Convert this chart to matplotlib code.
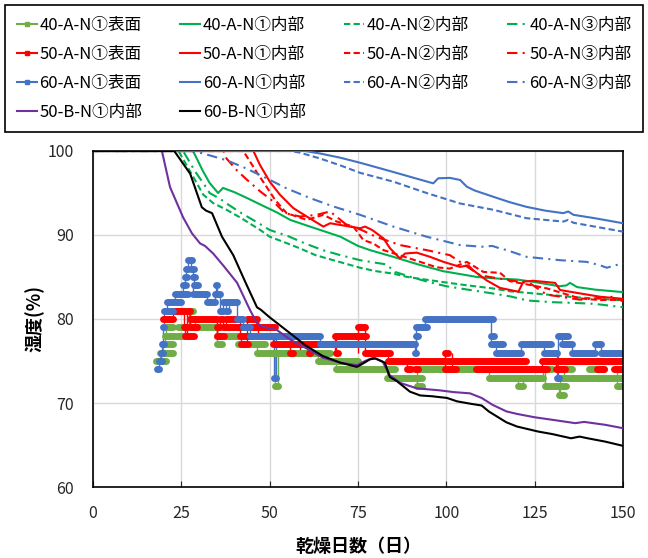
import numpy as np
import matplotlib
matplotlib.use("Agg")
import matplotlib.pyplot as plt
from matplotlib.lines import Line2D

plt.rcParams['font.family'] = ['Noto Sans CJK JP', 'DejaVu Sans']

# ---- interior humidity curves (day, %)
g1_d = [0, 28.3, 29.5, 31, 33, 35.4, 36.8, 40, 43.6, 48, 52, 55.8, 60, 65, 70, 75, 78.4, 85, 92, 99,
        108.7, 115, 120, 125, 132, 134, 135, 137, 142, 150]
g1_h = [100, 100, 99, 97.7, 96.2, 95.0, 95.6, 95.1, 94.4, 93.5, 92.7, 91.8, 91.2, 90.5, 89.8, 88.7, 88.2,
        87.4, 86.5, 85.7, 85.0, 84.8, 84.7, 84.4, 83.9, 84.0, 84.3, 83.8, 83.5, 83.2]
g2_d = [0, 24.2, 28.4, 31.2, 34, 37.8, 42, 47.3, 50, 55, 58.6, 63, 68, 75.6, 80, 85, 89, 94, 99, 106,
        113, 118, 124.6, 130, 136, 142, 150]
g2_h = [100, 100, 96.9, 94.8, 93.8, 93.0, 92.0, 90.6, 89.8, 89.0, 88.4, 87.6, 87.0, 86.1, 85.7, 85.4,
        85.0, 84.7, 84.4, 84.0, 83.65, 83.3, 83.05, 82.85, 82.6, 82.45, 82.2]
g3_d = [0, 25.5, 29, 31.5, 33, 36, 38, 42, 47.3, 50, 55, 60, 65, 70, 75.6, 80, 83, 85.5, 90, 95, 100,
        106, 113, 118, 123, 130, 137, 142, 150]
g3_h = [100, 100, 97.5, 96.0, 95.0, 94.3, 93.7, 92.6, 91.3, 90.6, 89.9, 89.0, 88.2, 87.6, 87.0, 86.7,
        86.5, 85.6, 85.0, 84.4, 83.9, 83.5, 83.05, 82.7, 82.2, 82.0, 81.9, 81.8, 81.4]

r1_d = [0, 45.4, 47.3, 50.1, 52.9, 56.7, 60.5, 65.2, 67.1, 69.9, 72.7, 75.6, 77, 79, 82.2, 84.1, 86.9,
        88.3, 91.6, 95.4, 99.2, 103.9, 106.2, 107.6, 111.4, 115.2, 120.4, 121.8, 124.6, 130.8, 132.2,
        137.8, 143.5, 150]
r1_h = [100, 100, 98.3, 96.3, 94.8, 93.2, 92.2, 91.0, 91.4, 91.2, 91.0, 90.8, 91.0, 90.6, 89.6, 88.4,
        87.2, 87.8, 87.9, 87.4, 86.8, 86.2, 86.4, 85.8, 84.6, 83.7, 83.25, 84.45, 84.55, 84.3, 83.45,
        83.05, 82.65, 82.4]
r2_d = [0, 42.5, 43, 46.3, 48.7, 51.5, 54.8, 60.5, 65.2, 69, 73.7, 76.5, 79.3, 82.2, 92.6, 97.3, 101,
        105.8, 110.5, 115.2, 118, 123.7, 128.4, 137.8, 143.5, 150]
r2_h = [100, 100, 99.7, 97.5, 96.0, 94.2, 92.6, 91.8, 92.4, 91.6, 91.0, 89.4, 89.0, 88.2, 86.8, 86.15,
        86.0, 86.8, 85.6, 85.5, 84.5, 84.05, 83.65, 82.45, 82.25, 82.3]
r3_d = [0, 37, 37.8, 40.7, 43.5, 47.3, 51, 54.3, 58.6, 63.3, 67.1, 71.8, 76, 80, 86.9, 94.4, 101,
        103.9, 109.5, 118, 123.7, 128.4, 137.8, 147.3, 150]
r3_h = [100, 100, 99.1, 97.7, 96.6, 95.2, 94.0, 92.6, 92.2, 92.4, 92.8, 91.2, 90.6, 89.8, 88.8, 88.2,
        87.6, 86.8, 85.2, 84.6, 84.25, 82.9, 82.3, 82.65, 82.1]

b1_d = [0, 60, 64.3, 70, 75.6, 85, 90, 96.3, 97.7, 101, 103.9, 105.8, 108, 113.3, 118, 122.7, 128,
        133.1, 134.5, 136, 142, 150]
b1_h = [100, 100, 99.7, 99.2, 98.6, 97.5, 96.9, 96.15, 96.75, 96.8, 96.55, 95.75, 95.3, 94.55, 93.9,
        93.35, 92.9, 92.6, 92.8, 92.4, 92.0, 91.4]
b2_d = [0, 56, 58.6, 64.3, 69.9, 75.6, 85, 94.4, 103.9, 113.3, 122.7, 133.1, 134.5, 136, 142, 150]
b2_h = [100, 100, 99.8, 99.1, 98.3, 97.4, 96.35, 95.0, 93.75, 93.0, 92.0, 91.6, 91.8, 91.45, 91.0, 90.4]
b3_d = [0, 28, 31.2, 37.8, 43.5, 50.1, 54.8, 61.4, 68, 75.6, 85, 94.4, 103.9, 110, 113, 115.2, 117.1,
        122.7, 132.2, 139.7, 143.5, 145.4, 149.6, 150]
b3_h = [100, 100, 99.7, 98.9, 97.9, 96.55, 95.55, 94.4, 93.4, 92.4, 91.0, 89.8, 88.8, 88.6, 88.7, 88.4,
        88.2, 87.4, 87.0, 86.8, 86.4, 86.1, 86.6, 86.6]

p_d = [0, 19.5, 21.8, 25.5, 28, 30.3, 31.7, 34, 37, 40.8, 44.4, 46.4, 48, 52, 56, 60, 65, 70, 74.7, 77,
       79.3, 82, 84, 86.9, 91.6, 98.2, 102, 106.7, 110, 113, 117, 120, 125, 130, 136.5, 139, 145, 150]
p_h = [100, 100, 95.7, 92.1, 90.2, 89.0, 88.7, 87.8, 86.3, 84.3, 81.1, 79.5, 79.1, 78.7, 77.5, 76.6,
       75.4, 74.8, 74.5, 75.0, 75.4, 74.9, 73.3, 72.4, 71.75, 71.5, 71.3, 71.15, 70.6, 69.8, 69.0, 68.7,
       68.3, 68.0, 67.6, 67.75, 67.4, 67.0]
k_d = [0, 23, 27.5, 30.8, 32, 33.7, 36.5, 39.7, 43, 46.4, 47.5, 50, 55.8, 60, 65, 70, 74.7, 76, 78.4,
       80, 82.6, 84, 86, 89.7, 92.6, 96, 100.2, 103, 107, 110, 112, 114.3, 117, 120, 123, 126, 130,
       135.3, 137.7, 140, 145, 150]
k_h = [100, 100, 97.3, 93.3, 92.9, 92.6, 89.8, 87.6, 84.5, 81.4, 81.1, 80.2, 78.3, 76.9, 75.6, 74.8,
       74.3, 74.6, 75.2, 75.3, 74.8, 73.1, 72.6, 71.35, 70.9, 70.8, 70.6, 70.2, 69.9, 69.7, 69.0, 68.4,
       67.7, 67.2, 66.9, 66.6, 66.3, 65.8, 66.0, 65.8, 65.4, 64.9]

# ---- surface readings: (start day, end day, level %)
gs_start = [17.7, 18.9, 19.9, 20.4, 20.7, 24.0, 27.1, 27.5, 28.9, 35.0, 35.0, 41.0, 46.3, 51.4, 52.4,
            63.7, 68.9, 83.1, 91.6, 91.6, 112.2, 120.4, 121.8, 127.4, 128.0, 132.0, 132.2, 133.2, 140.3,
            148.2]
gs_end = [20.7, 22.5, 22.7, 25.7, 22.7, 26.7, 28.4, 28.4, 35.0, 42.1, 36.4, 48.6, 52.9, 52.4, 67.1,
          75.0, 85.5, 93.0, 93.0, 112.2, 125.6, 121.8, 127.4, 129.8, 134.0, 133.3, 150.0, 135.5, 144.6,
          150.0]
gs_lvl = [75, 76, 77, 78, 79, 79, 81, 80, 79, 78, 77, 77, 76, 72, 76, 75, 74, 73, 72, 74, 73, 72, 73,
          74, 72, 71, 73, 74, 74, 72]

rs_start = [19.8, 22.5, 25.8, 26.0, 26.5, 27.5, 27.5, 35.0, 35.0, 36.0, 36.9, 37.5, 39.5, 41.6, 42.0,
            43.7, 46.6, 50.0, 51.0, 55.8, 58.6, 61.0, 68.5, 68.7, 75.0, 77.0, 83.5, 89.0, 91.0, 99.5,
            99.5, 101.5, 108.5, 127.0, 131.0, 142.5, 147.5]
rs_end = [22.5, 26.0, 26.5, 28.5, 27.5, 29.5, 35.0, 37.0, 36.0, 36.9, 51.5, 39.0, 41.6, 44.6, 44.0,
          46.3, 49.0, 60.0, 58.6, 56.5, 78.0, 61.5, 77.3, 69.2, 77.0, 84.0, 122.5, 90.0, 92.0, 101.0,
          100.5, 102.7, 128.4, 150.0, 133.5, 144.5, 150.0]
rs_lvl = [80, 81, 79, 78, 81, 79, 80, 78, 79, 80, 79, 80, 80, 78, 77, 80, 78, 78, 77, 76, 77, 76, 78,
          76, 79, 76, 75, 74, 74, 74, 76, 74, 74, 75, 74, 74, 74]

bs_start = [18.0, 18.8, 19.3, 19.5, 19.7, 20.0, 21.0, 23.2, 25.5, 26.0, 26.2, 27.0, 27.8, 28.2, 28.5,
            28.4, 32.4, 34.5, 34.7, 35.0, 35.9, 36.9, 37.5, 38.6, 40.8, 42.5, 44.5, 51.2, 51.8, 64.2,
            91.0, 91.3, 91.5, 94.0, 112.5, 112.5, 114.0, 121.0, 127.5, 131.3, 131.6, 132.8, 135.5,
            142.0, 143.8]
bs_end = [18.8, 19.5, 19.8, 20.0, 20.2, 22.5, 25.0, 27.0, 26.2, 26.5, 27.0, 28.0, 28.5, 28.8, 29.7,
          32.4, 34.5, 35.0, 35.2, 35.9, 36.9, 38.3, 38.3, 40.8, 42.5, 44.5, 51.2, 51.8, 64.2, 91.0,
          91.5, 92.0, 94.5, 113.2, 113.5, 116.0, 121.0, 129.5, 131.3, 131.8, 134.5, 135.5, 142.0,
          143.8, 150.0]
bs_lvl = [74, 75, 76, 77, 79, 81, 82, 83, 84, 85, 86, 87, 86, 85, 84, 83, 82, 83, 84, 83, 81, 82, 81,
          82, 80, 79, 78, 73, 78, 77, 76, 78, 79, 80, 78, 77, 76, 77, 76, 73, 78, 77, 76, 77, 76]

GREEN_S, GREEN, RED, BLUE, PURPLE = '#70AD47', '#00B050', '#FF0000', '#4472C4', '#7030A0'
DASH = (0, (3, 1.6))
DASHDOT = (0, (5, 2.5, 1, 2.5))

fig = plt.figure(figsize=(6.48, 5.58), dpi=100)
ax = fig.add_axes([93 / 648, 1 - 487 / 558, 530 / 648, 336 / 558])


def surface(start, end, lvl, color):
    start, end, lvl = np.array(start), np.array(end), np.array(lvl)
    ax.vlines(start[1:], lvl[:-1], lvl[1:], colors=color, lw=1.0, zorder=2.1)
    ax.hlines(lvl, start, end, colors=color, lw=5, capstyle='round', zorder=2.2)


surface(gs_start, gs_end, gs_lvl, GREEN_S)
ax.plot(g1_d, g1_h, color=GREEN, lw=1.5, zorder=3)
ax.plot(g2_d, g2_h, color=GREEN, lw=1.5, ls=DASH, zorder=3)
ax.plot(g3_d, g3_h, color=GREEN, lw=1.5, ls=DASHDOT, zorder=3)
surface(rs_start, rs_end, rs_lvl, RED)
ax.plot(r1_d, r1_h, color=RED, lw=1.5, zorder=3)
ax.plot(r2_d, r2_h, color=RED, lw=1.5, ls=DASH, zorder=3)
ax.plot(r3_d, r3_h, color=RED, lw=1.5, ls=DASHDOT, zorder=3)
surface(bs_start, bs_end, bs_lvl, BLUE)
ax.plot(b1_d, b1_h, color=BLUE, lw=1.5, zorder=3)
ax.plot(b2_d, b2_h, color=BLUE, lw=1.5, ls=DASH, zorder=3)
ax.plot(b3_d, b3_h, color=BLUE, lw=1.5, ls=DASHDOT, zorder=3)
ax.plot(p_d, p_h, color=PURPLE, lw=1.5, zorder=3)
ax.plot(k_d, k_h, color='black', lw=1.5, zorder=3)

ax.set_xlim(0, 150)
ax.set_ylim(60, 100)
ax.set_xticks(np.arange(0, 151, 25))
ax.set_yticks(np.arange(60, 101, 10))
ax.grid(True, color='#D9D9D9', lw=1)
ax.set_axisbelow(True)
for s in ax.spines.values():
    s.set_color('black')
    s.set_linewidth(1.2)
ax.tick_params(axis='x', direction='in', length=4, pad=13, labelsize=11.5, colors='#262626')
ax.tick_params(axis='y', length=0, pad=14, labelsize=11.5, colors='#262626')
ax.set_xlabel('乾燥日数（日）', fontsize=13, fontweight='bold', labelpad=11)
ax.set_ylabel('湿度(%)', fontsize=13, fontweight='bold', labelpad=2)

# legend, laid out row by row as in the reference
def h_s(c):
    return Line2D([], [], color=c, lw=1.5, marker='s', markersize=3.5)


def h_l(c, ls='-'):
    return Line2D([], [], color=c, lw=1.5, ls=ls)


labels = ['40-A-N①表面', '50-A-N①表面', '60-A-N①表面', '50-B-N①内部',
          '40-A-N①内部', '50-A-N①内部', '60-A-N①内部', '60-B-N①内部',
          '40-A-N②内部', '50-A-N②内部', '60-A-N②内部',
          '40-A-N③内部', '50-A-N③内部', '60-A-N③内部']
handles = [h_s(GREEN_S), h_s(RED), h_s(BLUE), h_l(PURPLE),
           h_l(GREEN), h_l(RED), h_l(BLUE), h_l('black'),
           h_l(GREEN, DASH), h_l(RED, DASH), h_l(BLUE, DASH),
           h_l(GREEN, DASHDOT), h_l(RED, DASHDOT), h_l(BLUE, DASHDOT)]
leg = fig.legend(handles, labels, ncol=4, loc='upper left', mode='expand',
                 bbox_to_anchor=(5 / 648, 1 - 133 / 558, 638 / 648, 128 / 558),
                 borderaxespad=0, fontsize=12, handlelength=1.2, handletextpad=0.15,
                 columnspacing=0.8, labelspacing=0.72, borderpad=0.7, fancybox=False,
                 edgecolor='black', framealpha=1)
leg.get_frame().set_linewidth(1.2)

fig.savefig('out.png', dpi=100)
